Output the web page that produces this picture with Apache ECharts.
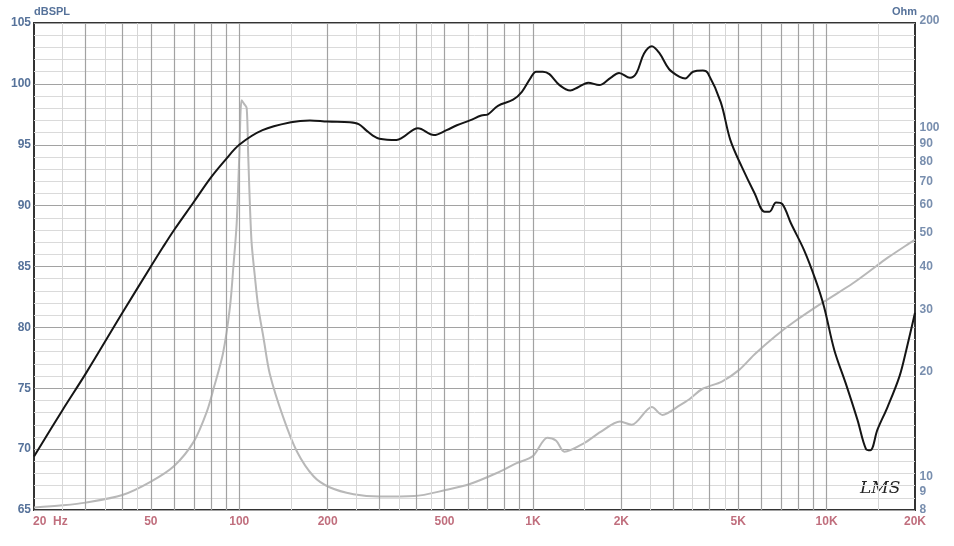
<!DOCTYPE html>
<html>
<head>
<meta charset="utf-8">
<script src="https://cdn.jsdelivr.net/npm/echarts@6/dist/echarts.min.js"></script>
<style>html,body{margin:0;padding:0;background:#fff;}#c{width:954px;height:546px;}</style>
</head>
<body>
<div id="c"></div>
<script>
// ---- data ----
const splFreq = [20,25,30,40,50,55,60,70,80,90,100,120,150,174,200,238,255,270,285,300,343,360,406,460,508,551,610,667,703,760,856,917,980,1025,1081,1138,1232,1341,1420,1542,1681,1838,1964,2140,2252,2390,2540,2700,2910,3175,3300,3510,3790,3940,4360,4700,5140,5690,6150,6390,6730,7080,7560,8380,9170,9800,10620,11620,12740,13620,14080,14900,16150,17720,18680,20000];
const splDb = [69.4,73.2,76.2,81.2,85.0,86.6,88.0,90.3,92.3,93.8,95.0,96.2,96.85,97.0,96.9,96.85,96.7,96.2,95.75,95.5,95.4,95.6,96.35,95.8,96.2,96.6,97.0,97.4,97.5,98.2,98.7,99.35,100.45,101.0,101.0,100.8,99.9,99.45,99.7,100.1,99.9,100.5,100.9,100.5,100.9,102.5,103.1,102.5,101.2,100.55,100.45,101.0,101.1,100.9,98.5,95.4,93.2,91.0,89.5,89.5,90.25,90.1,88.55,86.35,83.9,81.7,78.15,75.4,72.4,70.0,69.9,71.6,73.5,76.0,78.15,81.2];

const impFreq = [20,25,30,40,50,60,70,77.5,82,88,93,95.5,98,100,101.9,104,106,107.3,110,113,116,121,127,141,157,179,203,245,300,394,508,610,750,880,1000,1120,1200,1280,1490,1700,1980,2170,2540,2760,3170,3400,3770,4400,5040,5690,6670,7780,9800,12290,14710,16150,19700,20000];
const impOhm = [8.13,8.25,8.40,8.83,9.65,10.7,12.57,15.3,18.0,22.5,30.7,40.0,53.2,82.6,120,117,114,82.6,47.7,37.5,30.7,24.9,19.7,14.8,11.8,10.0,9.3,8.88,8.74,8.77,9.14,9.5,10.2,10.9,11.43,12.9,12.65,11.76,12.43,13.4,14.35,14.05,15.8,15.0,16.0,16.6,17.8,18.7,20.2,22.4,25.2,27.8,31.7,35.8,40.0,42.4,47.4,47.8];

const freqMajorGrid = [30,40,50,60,70,80,90,100,200,300,400,500,600,700,800,900,1000,2000,3000,4000,5000,6000,7000,8000,9000,10000];
const freqMinorGrid = [25,35,45,150,250,350,450,1500,2500,3500,4500,15000];
const freqTickVals = [20,50,100,200,500,1000,2000,5000,10000,20000];
const freqTickText = ['20  Hz','50','100','200','500','1K','2K','5K','10K','20K'];
const ohmTickVals = [200,100,90,80,70,60,50,40,30,20,10,9,8];

// ---- chart ----
const labelBlue = '#56729a';
const labelRed = '#b04a5c';
const font = '"Liberation Sans", Arial, sans-serif';

const chart = echarts.init(document.getElementById('c'), null, {renderer: 'canvas'});

const gridLineData = []
  .concat(freqMinorGrid.map(f => ({xAxis: f, lineStyle: {color: '#d6d6d6', width: 1, type: 'solid'}})))
  .concat(freqMajorGrid.map(f => ({xAxis: f, lineStyle: {color: '#a2a2a2', width: 1.2, type: 'solid'}})));

const option = {
  animation: false,
  backgroundColor: '#ffffff',
  grid: {left: 34, right: 39, top: 23, bottom: 36, show: true, borderColor: '#333', borderWidth: 2, backgroundColor: 'transparent'},
  xAxis: {
    type: 'log', logBase: 10, min: 20, max: 20000,
    axisLine: {show: false}, axisTick: {show: false}, axisLabel: {show: false}, splitLine: {show: false}
  },
  yAxis: [
    {
      type: 'value', min: 65, max: 105, interval: 5,
      axisLine: {show: false}, axisTick: {show: false},
      axisLabel: {color: labelBlue, fontFamily: font, fontSize: 12, fontWeight: 'bold', margin: 3},
      splitLine: {show: true, lineStyle: {color: '#a2a2a2', width: 1.2}},
      minorTick: {show: false, splitNumber: 5},
      minorSplitLine: {show: true, lineStyle: {color: '#dadada', width: 1}}
    },
    {
      type: 'log', logBase: 10, min: 8, max: 200, position: 'right',
      axisLine: {show: false}, axisTick: {show: false}, axisLabel: {show: false}, splitLine: {show: false}
    }
  ],
  graphic: [
    {type: 'text', left: 34, top: 6, style: {text: 'dBSPL', fill: labelBlue, font: 'bold 11px ' + font}},
    {type: 'text', left: 892, top: 6, style: {text: 'Ohm', fill: labelBlue, font: 'bold 11px ' + font}},
    {type: 'text', left: 860, top: 480, style: {text: 'LMS', fill: '#222', font: 'italic 17px "DejaVu Serif", serif'}}
  ],
  series: [
    {
      type: 'line', name: 'grid', data: [], z: 1, silent: true,
      markLine: {silent: true, symbol: ['none', 'none'], label: {show: false}, animation: false, data: gridLineData}
    },
    {
      type: 'line', name: 'Impedance', xAxisIndex: 0, yAxisIndex: 1, z: 4,
      data: impFreq.map((f, i) => [f, impOhm[i]]),
      showSymbol: false, smooth: 0.3,
      lineStyle: {color: '#b8b8b8', width: 2}
    },
    {
      type: 'line', name: 'SPL', xAxisIndex: 0, yAxisIndex: 0, z: 5,
      data: splFreq.map((f, i) => [f, splDb[i]]),
      showSymbol: false, smooth: 0.35,
      lineStyle: {color: '#151515', width: 2}
    },
    {
      type: 'scatter', name: 'xlabels', xAxisIndex: 0, yAxisIndex: 0, silent: true, z: 6,
      symbolSize: 1, itemStyle: {color: 'rgba(0,0,0,0)'},
      data: freqTickVals.map((f, i) => ({
        value: [f, 65],
        label: {
          show: true, position: 'bottom', distance: 5, formatter: freqTickText[i],
          align: i === 0 ? 'left' : 'center', offset: i === 0 ? [-1, 0] : [0, 0],
          color: labelRed, fontFamily: font, fontSize: 12, fontWeight: 'bold'
        }
      }))
    },
    {
      type: 'scatter', name: 'ohmlabels', xAxisIndex: 0, yAxisIndex: 1, silent: true, z: 6,
      symbolSize: 1, itemStyle: {color: 'rgba(0,0,0,0)'},
      data: ohmTickVals.map(v => ({
        value: [20000, v],
        label: {
          show: true, position: 'right', distance: 4, formatter: String(v),
          offset: v === 200 ? [0, -2] : [0, 0],
          color: labelBlue, fontFamily: font, fontSize: 12, fontWeight: 'bold'
        }
      }))
    }
  ]
};
chart.setOption(option);
</script>
</body>
</html>
